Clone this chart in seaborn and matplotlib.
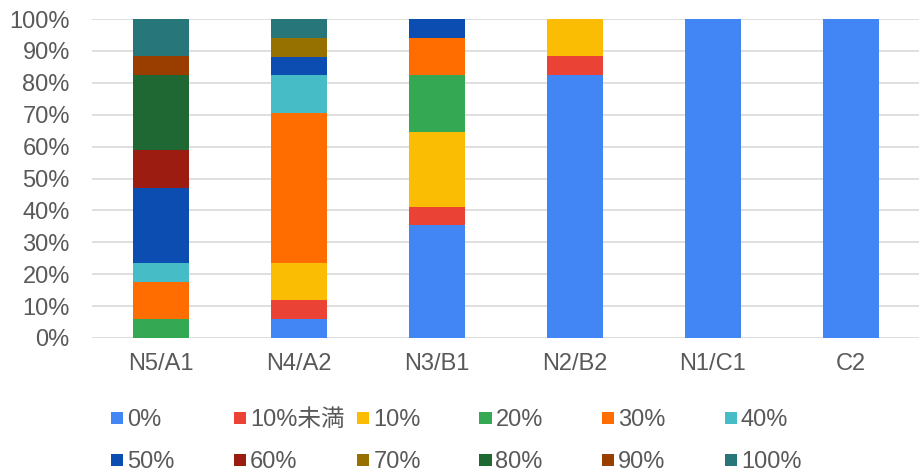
import numpy as np
import pandas as pd
import seaborn as sns
import matplotlib.pyplot as plt
from matplotlib.patches import Rectangle

# data (percent of respondents per level)
levels = ['N5/A1', 'N4/A2', 'N3/B1', 'N2/B2', 'N1/C1', 'C2']
series = ['0%', '10%未満', '10%', '20%', '30%', '40%',
          '50%', '60%', '70%', '80%', '90%', '100%']

p_0 = [0, 5.9, 35.3, 82.4, 100, 100]
p_lt10 = [0, 5.9, 5.9, 5.9, 0, 0]
p_10 = [0, 11.8, 23.5, 11.7, 0, 0]
p_20 = [5.9, 0, 17.6, 0, 0, 0]
p_30 = [11.8, 46.9, 11.8, 0, 0, 0]
p_40 = [5.9, 11.8, 0, 0, 0, 0]
p_50 = [23.5, 5.9, 5.9, 0, 0, 0]
p_60 = [11.8, 0, 0, 0, 0, 0]
p_70 = [0, 5.9, 0, 0, 0, 0]
p_80 = [23.5, 0, 0, 0, 0, 0]
p_90 = [5.9, 0, 0, 0, 0, 0]
p_100 = [11.7, 5.9, 0, 0, 0, 0]

colors = ['#4285F4', '#EA4335', '#FBBC04', '#34A853', '#FF6D01', '#46BDC6',
          '#0B4DB0', '#9C1C12', '#967100', '#1F6733', '#9A3E00', '#27767A']

df = pd.DataFrame(dict(zip(series, [p_0, p_lt10, p_10, p_20, p_30, p_40,
                                     p_50, p_60, p_70, p_80, p_90, p_100])),
                  index=levels)
cum = df.cumsum(axis=1)

sns.set_theme(style='white')
plt.rcParams['font.family'] = ['Liberation Sans', 'Noto Sans CJK JP']
text_color = '#595959'
fs = 17

W, H = 920, 471
fig = plt.figure(figsize=(W / 100, H / 100), dpi=100)
ax = fig.add_axes([92 / W, 1 - 338 / H, (920 - 92) / W, (338 - 19) / H])

# stacked bars: draw cumulative totals from the top series down
for name, col in reversed(list(zip(series, colors))):
    sns.barplot(x=levels, y=cum[name].values, color=col, saturation=1,
                width=0.4, linewidth=0, ax=ax)

ax.set_ylim(0, 100)
ax.set_xlim(-0.5, len(levels) - 0.5)
ax.set_yticks(np.arange(0, 101, 10))
ax.set_yticklabels([f'{v}%' for v in range(0, 101, 10)])
ax.yaxis.grid(True, color='#D9D9D9', linewidth=1.2)
ax.set_axisbelow(True)
for s in ax.spines.values():
    s.set_visible(False)
ax.tick_params(axis='y', length=0, pad=16, labelsize=fs, labelcolor=text_color)
ax.tick_params(axis='x', length=0, pad=11, labelsize=fs, labelcolor=text_color)
ax.set_xlabel('')
ax.set_ylabel('')

# legend in two rows of six, fixed column spacing
col_x = [111.5, 234, 357.5, 479.5, 602, 725]
row_y = [418, 460]
for i, (name, col) in enumerate(zip(series, colors)):
    x = col_x[i % 6]
    y = row_y[i // 6]
    fig.add_artist(Rectangle((x / W, 1 - (y + 6) / H), 12 / W, 12 / H,
                             transform=fig.transFigure, color=col, lw=0))
    fig.text((x + 16) / W, 1 - (y + 7.5) / H, name, fontsize=fs,
             color=text_color, va='baseline', ha='left')

fig.savefig('out.png', dpi=100)
